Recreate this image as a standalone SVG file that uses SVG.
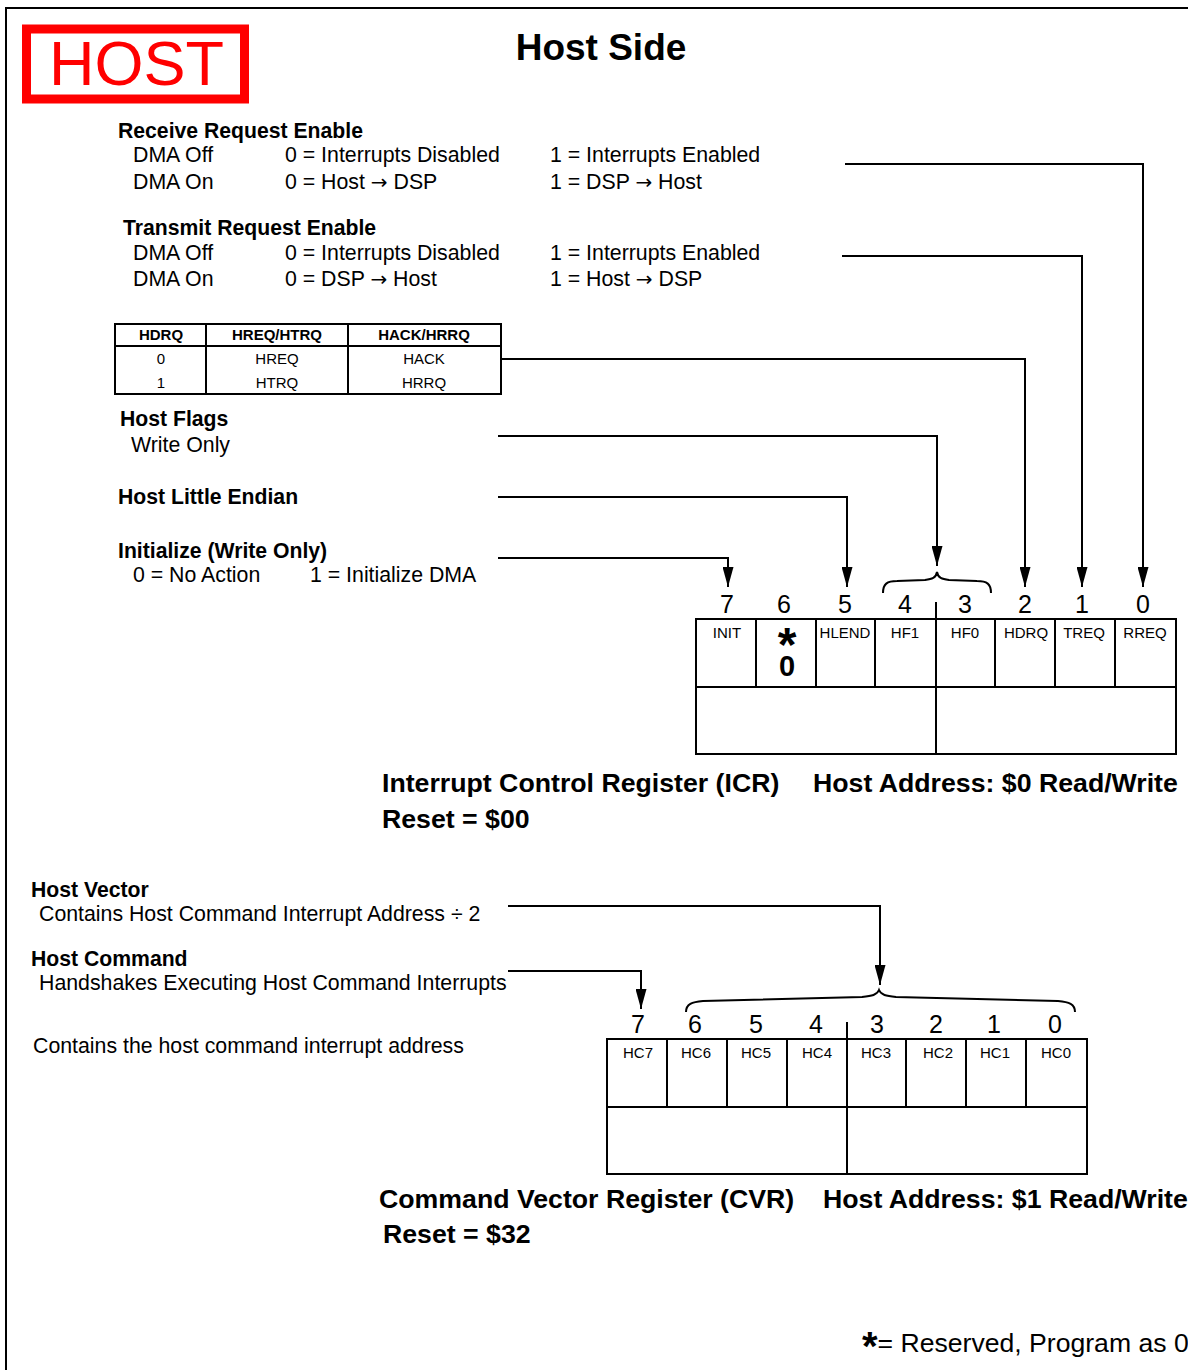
<svg xmlns="http://www.w3.org/2000/svg" width="1188" height="1370" viewBox="0 0 1188 1370">
<defs>
<style>
text{font-family:"Liberation Sans",Arial,Helvetica,sans-serif;fill:#000}
.b{font-weight:bold}
.body{font-size:21.3px}
.hd{font-size:21.2px;font-weight:bold}
.cap{font-size:26.7px;font-weight:bold}
.bit{font-size:25px;text-anchor:middle}
.cell{font-size:15px;text-anchor:middle}
.tbl{font-size:15px;text-anchor:middle}
.ar{font-family:"DejaVu Sans",sans-serif;font-size:20px}
.ln{fill:none;stroke:#000;stroke-width:2}
.box{fill:none;stroke:#000;stroke-width:2}
</style>
<marker id="arr" viewBox="0 0 20 11" markerWidth="20" markerHeight="11" refX="20" refY="5.5" orient="auto" markerUnits="userSpaceOnUse">
<path d="M0,0 L20,5.5 L0,11 z" fill="#000"/>
</marker>
</defs>
<rect width="1188" height="1370" fill="#fff"/>
<path class="ln" d="M6,1372 L6,8 L1190,8"/>

<g id="host-badge">
<rect x="26.5" y="29" width="218" height="70" fill="none" stroke="#f00" stroke-width="9"/>
<text x="49" y="85" style="font-size:63px;fill:#f00">HOST</text>
</g>
<g id="title"><text x="601" y="60" class="b" style="font-size:37px;text-anchor:middle">Host Side</text></g>

<g id="receive-request-enable">
<text x="118" y="138" class="hd">Receive Request Enable</text>
<text x="133" y="162" class="body">DMA Off</text>
<text x="285" y="162" class="body">0 = Interrupts Disabled</text>
<text x="550" y="162" class="body">1 = Interrupts Enabled</text>
<text x="133" y="189" class="body">DMA On</text>
<text x="285" y="189" class="body">0 = Host <tspan class="ar">→</tspan> DSP</text>
<text x="550" y="189" class="body">1 = DSP <tspan class="ar">→</tspan> Host</text>
</g>
<g id="transmit-request-enable">
<text x="123" y="235" class="hd">Transmit Request Enable</text>
<text x="133" y="260" class="body">DMA Off</text>
<text x="285" y="260" class="body">0 = Interrupts Disabled</text>
<text x="550" y="260" class="body">1 = Interrupts Enabled</text>
<text x="133" y="286" class="body">DMA On</text>
<text x="285" y="286" class="body">0 = DSP <tspan class="ar">→</tspan> Host</text>
<text x="550" y="286" class="body">1 = Host <tspan class="ar">→</tspan> DSP</text>
</g>
<g id="hdrq-table">
<rect class="box" x="115" y="324" width="386" height="70"/>
<path class="ln" d="M115,346 H501 M206,324 V394 M348,324 V394"/>
<text x="161" y="340" class="tbl b">HDRQ</text>
<text x="277" y="340" class="tbl b">HREQ/HTRQ</text>
<text x="424" y="340" class="tbl b">HACK/HRRQ</text>
<text x="161" y="364" class="tbl">0</text>
<text x="277" y="364" class="tbl">HREQ</text>
<text x="424" y="364" class="tbl">HACK</text>
<text x="161" y="388" class="tbl">1</text>
<text x="277" y="388" class="tbl">HTRQ</text>
<text x="424" y="388" class="tbl">HRRQ</text>
</g>
<g id="host-flags">
<text x="120" y="426" class="hd">Host Flags</text>
<text x="131" y="452" class="body">Write Only</text>
</g>
<g id="host-little-endian"><text x="118" y="504" class="hd">Host Little Endian</text></g>
<g id="initialize">
<text x="118" y="558" class="hd">Initialize (Write Only)</text>
<text x="133" y="582" class="body">0 = No Action</text>
<text x="310" y="582" class="body">1 = Initialize DMA</text>
</g>

<g id="icr-register">
<rect class="box" x="696" y="619" width="480" height="135"/>
<path class="ln" d="M696,687 H1176 M756,619 V687 M816,619 V687 M875,619 V687 M995,619 V687 M1055,619 V687 M1115,619 V687 M936,602 V754"/>
<path class="ln" d="M883,593 C883,584 887,581 897,581 L925,580 C932,579 936,578 937,572 C938,578 942,579 949,580 L977,581 C987,581 991,584 991,593"/>
<text x="727" y="613" class="bit">7</text>
<text x="784" y="613" class="bit">6</text>
<text x="845" y="613" class="bit">5</text>
<text x="905" y="613" class="bit">4</text>
<text x="965" y="613" class="bit">3</text>
<text x="1025" y="613" class="bit">2</text>
<text x="1082" y="613" class="bit">1</text>
<text x="1143" y="613" class="bit">0</text>
<text x="727" y="638" class="cell">INIT</text>
<text class="b" style="text-anchor:middle"><tspan x="787" y="661" style="font-size:48px">*</tspan><tspan x="787" y="676" style="font-size:29px">0</tspan></text>
<text x="845" y="638" class="cell">HLEND</text>
<text x="905" y="638" class="cell">HF1</text>
<text x="965" y="638" class="cell">HF0</text>
<text x="1026" y="638" class="cell">HDRQ</text>
<text x="1084" y="638" class="cell">TREQ</text>
<text x="1145" y="638" class="cell">RREQ</text>
</g>
<g id="icr-caption">
<text x="382" y="792" class="cap">Interrupt Control Register (ICR)</text>
<text x="813" y="792" class="cap">Host Address: $0 Read/Write</text>
<text x="382" y="828" class="cap">Reset = $00</text>
</g>

<g id="host-vector">
<text x="31" y="897" class="hd">Host Vector</text>
<text x="39" y="921" class="body">Contains Host Command Interrupt Address ÷ 2</text>
</g>
<g id="host-command">
<text x="31" y="966" class="hd">Host Command</text>
<text x="39" y="990" class="body">Handshakes Executing Host Command Interrupts</text>
</g>
<g id="cvr-note"><text x="33" y="1053" class="body">Contains the host command interrupt address</text></g>

<g id="cvr-register">
<rect class="box" x="607" y="1039" width="480" height="135"/>
<path class="ln" d="M607,1107 H1087 M667,1039 V1107 M727,1039 V1107 M787,1039 V1107 M906,1039 V1107 M966,1039 V1107 M1026,1039 V1107 M847,1022 V1174"/>
<path class="ln" d="M686,1012 C686,1004 692,1002 703,1001 L862,997 C872,996 877,995 879,990 C881,995 886,996 896,997 L1058,1001 C1069,1002 1075,1004 1075,1012"/>
<text x="638" y="1033" class="bit">7</text>
<text x="695" y="1033" class="bit">6</text>
<text x="756" y="1033" class="bit">5</text>
<text x="816" y="1033" class="bit">4</text>
<text x="877" y="1033" class="bit">3</text>
<text x="936" y="1033" class="bit">2</text>
<text x="994" y="1033" class="bit">1</text>
<text x="1055" y="1033" class="bit">0</text>
<text x="638" y="1058" class="cell">HC7</text>
<text x="696" y="1058" class="cell">HC6</text>
<text x="756" y="1058" class="cell">HC5</text>
<text x="817" y="1058" class="cell">HC4</text>
<text x="876" y="1058" class="cell">HC3</text>
<text x="938" y="1058" class="cell">HC2</text>
<text x="995" y="1058" class="cell">HC1</text>
<text x="1056" y="1058" class="cell">HC0</text>
</g>
<g id="cvr-caption">
<text x="379" y="1208" class="cap">Command Vector Register (CVR)</text>
<text x="823" y="1208" class="cap">Host Address: $1 Read/Write</text>
<text x="383" y="1243" class="cap">Reset = $32</text>
</g>
<g id="footnote">
<text x="862" y="1352" style="font-size:26.6px"><tspan class="b" style="font-size:40px" dy="8">*</tspan><tspan dy="-8">= Reserved, Program as 0</tspan></text>
</g>

<g id="connectors">
<path class="ln" marker-end="url(#arr)" d="M845,164 H1143 V587"/>
<path class="ln" marker-end="url(#arr)" d="M842,256 H1082 V587"/>
<path class="ln" marker-end="url(#arr)" d="M501,359 H1025 V587"/>
<path class="ln" marker-end="url(#arr)" d="M498,436 H937 V566"/>
<path class="ln" marker-end="url(#arr)" d="M498,497 H847 V587"/>
<path class="ln" marker-end="url(#arr)" d="M498,558 H728 V587"/>
<path class="ln" marker-end="url(#arr)" d="M508,906 H880 V985"/>
<path class="ln" marker-end="url(#arr)" d="M508,971 H641 V1009"/>
</g>
</svg>
